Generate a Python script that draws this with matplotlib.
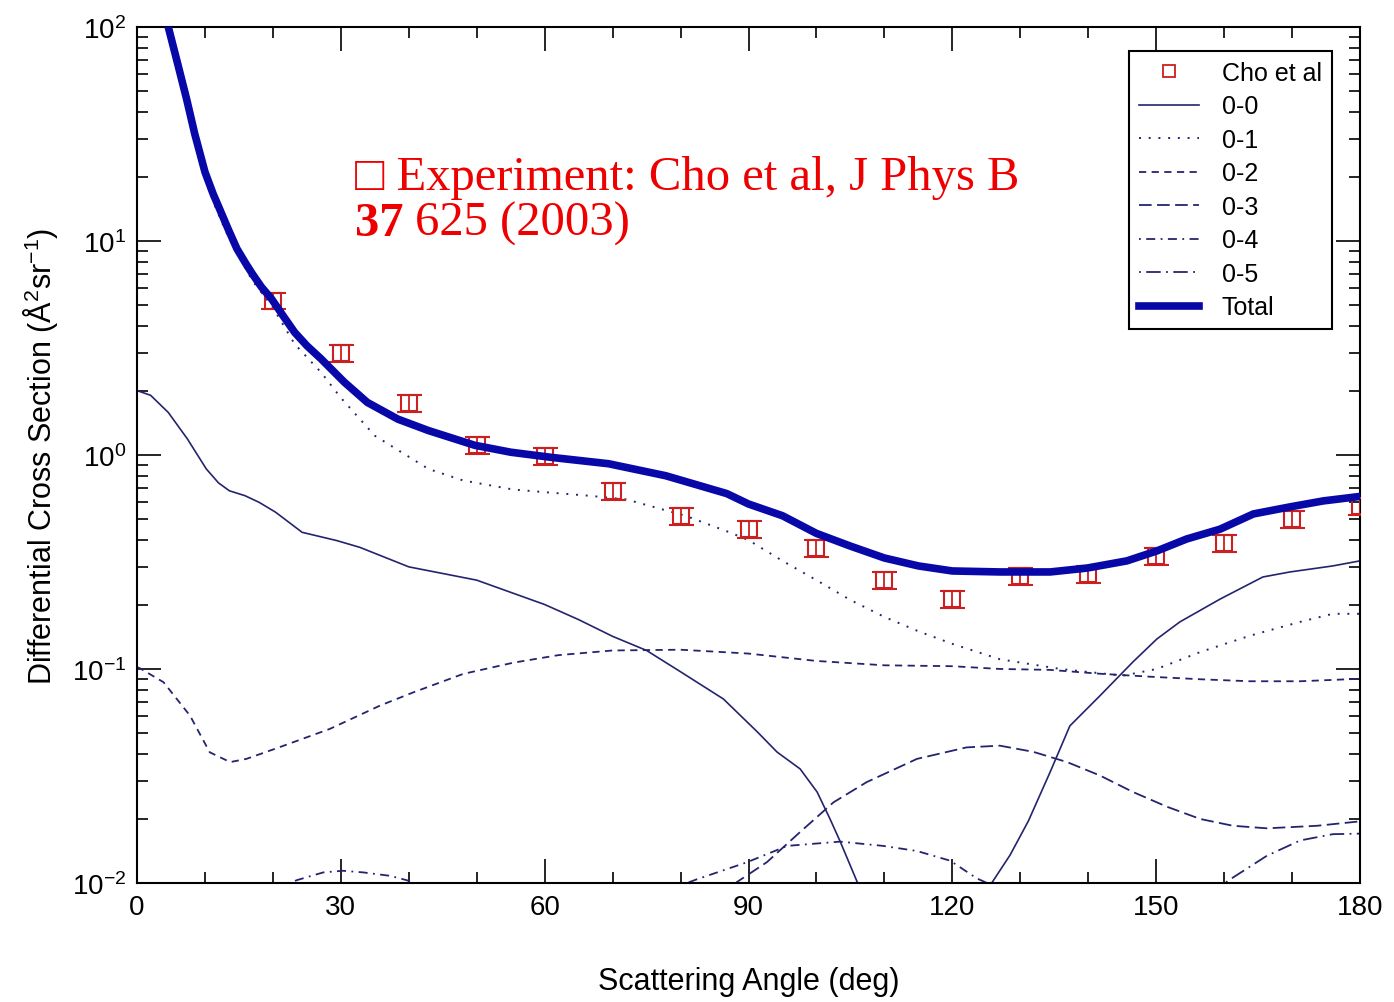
import matplotlib
matplotlib.use("Agg")
import matplotlib.pyplot as plt
from matplotlib.lines import Line2D
from matplotlib.ticker import MultipleLocator, LogLocator, LogFormatterMathtext, NullFormatter

plt.rcParams['font.family'] = ['Liberation Sans', 'DejaVu Sans']
plt.rcParams['mathtext.default'] = 'regular'

# Experiment: Cho et al
exp_angle = [20, 30, 40, 50, 60, 70, 80, 90, 100, 110, 120, 130, 140, 150, 160, 170, 180]
exp_dcs = [5.26, 3.0, 1.75, 1.11, 0.99, 0.68, 0.52, 0.45, 0.367, 0.26, 0.212, 0.272, 0.278, 0.337, 0.388, 0.50, 0.578]
exp_err_frac = 0.09

# 0-0
a00 = [0, 2, 4.6, 7.4, 10.2, 12, 13.6, 15.9, 18, 20.4, 24.3, 29.4, 32.8, 40, 50, 60, 65, 70, 75, 80, 86.3,
       91.3, 94.2, 97.6, 100.1, 102, 103.5, 106, 110, 115, 120, 123, 125.8, 128.5, 131.2, 134.4,
       137.3, 141.7, 146.6, 150.1, 153.5, 159.4, 165.7, 169.7, 176, 180]
v00 = [2.0, 1.9, 1.58, 1.19, 0.86, 0.74, 0.68, 0.645, 0.6, 0.54, 0.435, 0.398, 0.37, 0.30, 0.26, 0.20, 0.17, 0.142, 0.122, 0.097, 0.0724,
       0.0508, 0.0409, 0.0341, 0.0266, 0.0199, 0.0156, 0.0101, 0.006, 0.004, 0.004, 0.006, 0.0100, 0.0135, 0.0195, 0.0330,
       0.0542, 0.0748, 0.108, 0.138, 0.166, 0.212, 0.269, 0.284, 0.303, 0.32]

# 0-1
a01 = [3, 4.6, 6, 7.3, 8.5, 10, 11.5, 13, 14.7, 17, 19.8, 23.2, 27.1, 30, 35, 42.9, 48, 55.3, 60, 66.5, 72, 80.7, 86.8, 90,
       95, 100, 105, 110, 115, 120, 127, 135.9, 145.1, 150.1, 156.5, 163.8, 171.2, 176, 180]
v01 = [150, 95, 64, 44, 29, 19.5, 14.5, 11.2, 8.8, 6.5, 5.0, 3.3, 2.43, 1.85, 1.23, 0.86, 0.76, 0.69, 0.67, 0.645, 0.62, 0.52, 0.44, 0.40,
       0.32, 0.26, 0.21, 0.175, 0.15, 0.131, 0.111, 0.100, 0.093, 0.100, 0.12, 0.143, 0.166, 0.181, 0.181]

# 0-2
a02 = [0, 0.44, 3.9, 7.8, 10.7, 13.7, 16.1, 20.9, 28.4, 35.8, 40.7, 48, 55.4, 62, 70, 80, 90, 100,
       110, 120, 127, 134.4, 141.7, 149.1, 156.5, 163.8, 171.2, 179, 180]
v02 = [0.102, 0.1007, 0.0867, 0.0605, 0.0408, 0.0367, 0.038, 0.043, 0.0525, 0.0675, 0.0778, 0.0948, 0.107, 0.116, 0.122, 0.123, 0.118, 0.109,
       0.104, 0.103, 0.100, 0.099, 0.095, 0.092, 0.0895, 0.0876, 0.0876, 0.0897, 0.09]

# 0-3
a03 = [60, 70, 80, 85, 88.3, 92.7, 97.6, 102.5, 107.4, 114.8, 122.1, 127, 131.9, 136.9, 141.7, 146.6,
       151.6, 156.5, 161.3, 166.3, 173.7, 180]
v03 = [0.002, 0.003, 0.0055, 0.0078, 0.0101, 0.0125, 0.0173, 0.0238, 0.0296, 0.038, 0.043, 0.0438, 0.041, 0.0367, 0.0318, 0.0266,
       0.0227, 0.0199, 0.0185, 0.018, 0.0185, 0.0194]

# 0-4
a04 = [0, 10, 20, 23.5, 27.4, 30.3, 33.3, 37.2, 39.7, 45, 55, 65, 75, 82.4, 89.8, 95.7, 103.5, 109.8,
       114.8, 119.7, 123.6, 125.1, 130, 140]
v04 = [0.004, 0.006, 0.0092, 0.0103, 0.0112, 0.0114, 0.0112, 0.0108, 0.0103, 0.0088, 0.0065, 0.0065, 0.0085, 0.0104, 0.0125, 0.0149, 0.0156, 0.0149,
       0.0141, 0.0127, 0.0105, 0.0100, 0.007, 0.004]

# 0-5
a05 = [140, 150, 157, 160.9, 166.3, 171.2, 176, 180]
v05 = [0.004, 0.006, 0.0085, 0.0104, 0.0134, 0.0158, 0.0169, 0.017]

# Total
a_tot = [3, 4.6, 6, 7.3, 8.5, 10, 11.2, 12.5, 13.5, 14.7, 16, 17, 18.3, 19.8, 21.5, 23.2, 25, 27.1, 30.5,
         33.9, 38.4, 42.9, 49.7, 55, 60.9, 69.4, 77.8, 86.8, 90, 95, 100, 105, 110, 115, 120, 127, 134.4,
         139.8, 145.7, 150.1, 154.5, 159.4, 164.3, 169.7, 174.6, 180]
v_tot = [160, 100, 67, 46, 31.6, 21, 16.6, 13.3, 11.2, 9.2, 7.85, 7.0, 6.1, 5.36, 4.47, 3.74, 3.24, 2.81, 2.19,
         1.76, 1.47, 1.30, 1.11, 1.03, 0.975, 0.91, 0.80, 0.66, 0.59, 0.52, 0.43, 0.375, 0.33, 0.303, 0.287, 0.284, 0.284,
         0.296, 0.32, 0.356, 0.405, 0.45, 0.53, 0.572, 0.61, 0.64]

line_col = '#24246e'
exp_col = '#cc2020'
fig = plt.figure(figsize=(13.94, 10.03), dpi=100)
ax = fig.add_axes([0.0983, 0.1187, 0.8773, 0.8534])

yerr = [v * exp_err_frac for v in exp_dcs]
ax.errorbar(exp_angle, exp_dcs, yerr=yerr, fmt='s', mfc='none', mec=exp_col, ecolor=exp_col,
            ms=11, mew=1.5, capsize=9, elinewidth=1.3, capthick=1.5, zorder=4)
ax.plot(a00, v00, '-', color=line_col, lw=1.2, label='0-0')
ax.plot(a01, v01, color=line_col, lw=1.4, linestyle=(0, (1, 4)), label='0-1')
ax.plot(a02, v02, color=line_col, lw=1.3, linestyle=(0, (4, 3)), label='0-2')
ax.plot(a03, v03, color=line_col, lw=1.3, linestyle=(0, (7, 3)), label='0-3')
ax.plot(a04, v04, color=line_col, lw=1.3, linestyle=(0, (1, 3, 5, 3)), label='0-4')
ax.plot(a05, v05, color=line_col, lw=1.3, linestyle=(0, (1, 3, 8, 3)), label='0-5')
ax.plot(a_tot, v_tot, '-', color='#0808a8', lw=5.5, label='Total', zorder=5)

ax.set_yscale('log')
ax.set_xlim(0, 180)
ax.set_ylim(1e-2, 1e2)
ax.xaxis.set_major_locator(MultipleLocator(30))
ax.xaxis.set_minor_locator(MultipleLocator(10))
ax.yaxis.set_major_locator(LogLocator(base=10))
ax.yaxis.set_major_formatter(LogFormatterMathtext())
ax.yaxis.set_minor_locator(LogLocator(base=10, subs=range(2, 10)))
ax.yaxis.set_minor_formatter(NullFormatter())
ax.tick_params(which='both', direction='in', top=True, right=True, labelsize=20, width=1.2, pad=8)
ax.tick_params(which='major', length=17)
ax.tick_params(which='minor', length=8)
for s in ax.spines.values():
    s.set_linewidth(1.5)

ax.set_xlabel('Scattering Angle (deg)', fontsize=22, labelpad=33)
ax.set_ylabel('Differential Cross Section (Å$^2$sr$^{-1}$)', fontsize=22, labelpad=8)

handles, labels = ax.get_legend_handles_labels()
exp_handle = Line2D([], [], linestyle='none', marker='s', ms=8, mfc='none', mec=exp_col, mew=1.3)
leg = ax.legend([exp_handle] + handles, ['Cho et al'] + labels, loc='upper right',
                bbox_to_anchor=(0.977, 0.972), fontsize=18, handlelength=2.4,
                labelspacing=0.38, handletextpad=0.9, borderpad=0.4, fancybox=False, framealpha=1,
                edgecolor='black', borderaxespad=0)
leg.get_frame().set_linewidth(1.5)

red = '#ee0000'
fig.text(0.2547, 0.8106, '□ Experiment: Cho et al, J Phys B', color=red, fontsize=35,
         family=['Liberation Serif', 'DejaVu Sans'])
fig.text(0.2547, 0.7647, '37', color=red, fontsize=35, fontweight='bold', family='Liberation Serif')
fig.text(0.2977, 0.7647, '625 (2003)', color=red, fontsize=35, family='Liberation Serif')

fig.savefig('out.png', dpi=100)
